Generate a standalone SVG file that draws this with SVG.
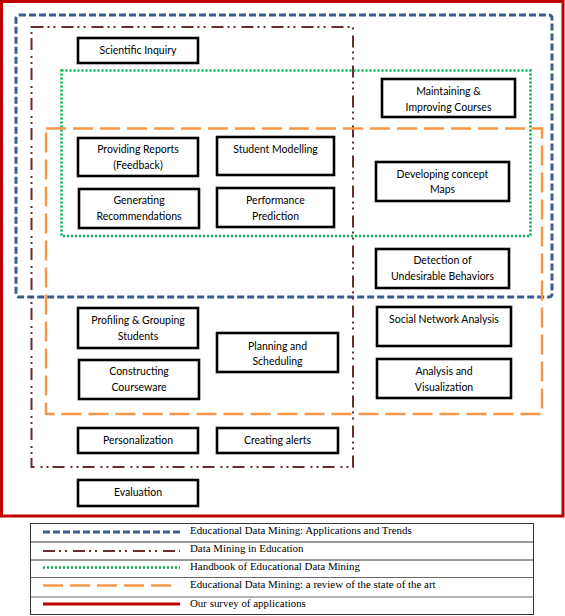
<svg xmlns="http://www.w3.org/2000/svg" width="565" height="616" viewBox="0 0 565 616">
<style>
.box{fill:#fff;stroke:#000;stroke-width:2.6}
.t{font-family:Lato,"Open Sans","DejaVu Sans",sans-serif;font-size:10.5px;fill:#000;text-anchor:middle}
.lt{font-family:"Liberation Serif","Times New Roman",serif;font-size:10.9px;fill:#000}
.blue{fill:none;stroke:#3B5E8F;stroke-width:3;stroke-dasharray:7 3}
.brown{fill:none;stroke:#6B2C2C;stroke-width:2;stroke-dasharray:12 4 2 4 2 6}
.green{fill:none;stroke:#00B050;stroke-width:2.6;stroke-dasharray:2 2}
.orange{fill:none;stroke:#F79646;stroke-width:2.4;stroke-dasharray:20 7}
.red{fill:none;stroke:#C00000;stroke-width:3}
</style>
<rect width="565" height="616" fill="#fff"/>
<g id="frames">
<rect class="red" x="1.5" y="1.5" width="561.5" height="514.5"/>
<rect class="blue" x="16" y="15" width="536" height="282" rx="3"/>
<rect class="brown" x="31.5" y="27" width="321.5" height="440"/>
<rect class="green" x="61.5" y="70.5" width="469" height="165.5"/>
<rect class="orange" x="46" y="128.5" width="496" height="285.5"/>
</g>
<g id="connectors"></g>
<g id="n1"><rect class="box" x="78" y="38" width="120" height="25"/><text class="t" x="138" y="53.5">Scientific Inquiry</text></g>
<g id="n2"><rect class="box" x="382" y="79" width="133" height="38"/><text class="t" x="448.5" y="94.5">Maintaining &amp;</text><text class="t" x="448.5" y="110.5">Improving Courses</text></g>
<g id="n3"><rect class="box" x="78" y="138" width="120" height="38"/><text class="t" x="138" y="153">Providing Reports</text><text class="t" x="138" y="169">(Feedback)</text></g>
<g id="n4"><rect class="box" x="217" y="137" width="117" height="38"/><text class="t" x="275.5" y="153">Student Modelling</text></g>
<g id="n5"><rect class="box" x="376" y="162" width="133" height="39"/><text class="t" x="442.5" y="177.5">Developing concept</text><text class="t" x="442.5" y="193">Maps</text></g>
<g id="n6"><rect class="box" x="79" y="189" width="120" height="39"/><text class="t" x="139" y="204">Generating</text><text class="t" x="139" y="219.5">Recommendations</text></g>
<g id="n7"><rect class="box" x="217" y="188" width="117" height="39"/><text class="t" x="275.5" y="204">Performance</text><text class="t" x="275.5" y="219.5">Prediction</text></g>
<g id="n8"><rect class="box" x="376" y="249" width="133" height="39"/><text class="t" x="442.5" y="264">Detection of</text><text class="t" x="442.5" y="280">Undesirable Behaviors</text></g>
<g id="n9"><rect class="box" x="78" y="308" width="120" height="40"/><text class="t" x="138" y="324">Profiling &amp; Grouping</text><text class="t" x="138" y="339.5">Students</text></g>
<g id="n10"><rect class="box" x="217" y="333" width="121" height="39"/><text class="t" x="277.5" y="349.5">Planning and</text><text class="t" x="277.5" y="365">Scheduling</text></g>
<g id="n11"><rect class="box" x="377" y="307" width="134" height="39"/><text class="t" x="444" y="323">Social Network Analysis</text></g>
<g id="n12"><rect class="box" x="79" y="360" width="120" height="39"/><text class="t" x="139" y="375">Constructing</text><text class="t" x="139" y="391">Courseware</text></g>
<g id="n13"><rect class="box" x="377" y="359" width="134" height="39"/><text class="t" x="444" y="375">Analysis and</text><text class="t" x="444" y="391">Visualization</text></g>
<g id="n14"><rect class="box" x="78" y="428" width="120" height="25"/><text class="t" x="138" y="444">Personalization</text></g>
<g id="n15"><rect class="box" x="217" y="428" width="121" height="25"/><text class="t" x="277.5" y="444">Creating alerts</text></g>
<g id="n16"><rect class="box" x="78" y="480" width="120" height="26"/><text class="t" x="138" y="496">Evaluation</text></g>
<g id="legend">
<rect x="30.5" y="523.5" width="503" height="91" fill="#fff" stroke="#333" stroke-width="1"/>
<line x1="30.5" y1="542" x2="533.5" y2="542" stroke="#333" stroke-width="1"/>
<line x1="30.5" y1="560" x2="533.5" y2="560" stroke="#333" stroke-width="1"/>
<line x1="30.5" y1="577.5" x2="533.5" y2="577.5" stroke="#666" stroke-width="1"/>
<line x1="30.5" y1="597" x2="533.5" y2="597" stroke="#666" stroke-width="1"/>
<line class="blue" x1="43" y1="532" x2="180" y2="532"/>
<line class="brown" x1="43" y1="551" x2="180" y2="551" stroke-width="2.5"/>
<line class="green" x1="43" y1="567.5" x2="180" y2="567.5"/>
<line class="orange" x1="43" y1="585.5" x2="174" y2="585.5" stroke-width="3"/>
<line class="red" x1="43" y1="604" x2="180" y2="604"/>
<text class="lt" x="190" y="533.5">Educational Data Mining: Applications and Trends</text>
<text class="lt" x="190" y="552">Data Mining in Education</text>
<text class="lt" x="190" y="570">Handbook of Educational Data Mining</text>
<text class="lt" x="190" y="588">Educational Data Mining: a review of the state of the art</text>
<text class="lt" x="190" y="607">Our survey of applications</text>
</g>
</svg>
